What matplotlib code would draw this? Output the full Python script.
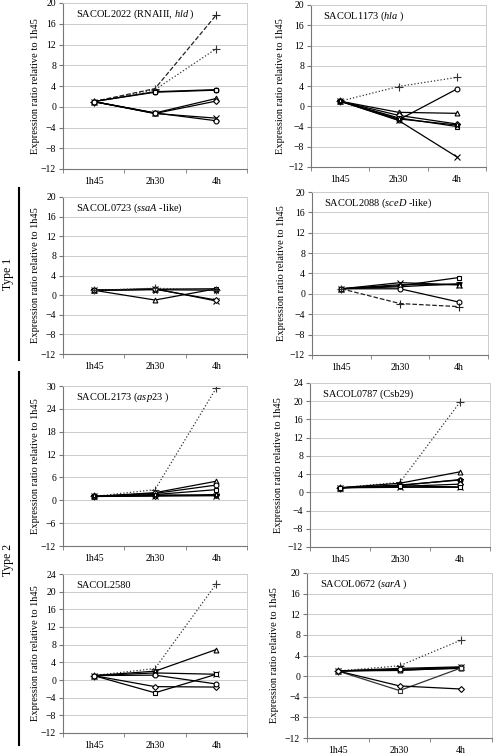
import matplotlib
matplotlib.use('Agg')
import matplotlib.pyplot as plt
from matplotlib.lines import Line2D

plt.rcParams['font.family'] = ['Liberation Serif', 'DejaVu Serif']
plt.rcParams['mathtext.fontset'] = 'custom'
plt.rcParams['mathtext.rm'] = 'Liberation Serif'
plt.rcParams['mathtext.it'] = 'Liberation Serif:italic'

times = ['1h45', '2h30', '4h']

# ---- data: one list of series per panel, keys name the marker/line style ----
hld_keys = ['plus_dash', 'plus_dot', 'o', 's', '^', 'D', 'x', 'o']
hld_vals = [[1, 3.5, 17.7], [1, 3.3, 11.2], [1, 2.9, 3.3], [1, 2.8, 3.2],
            [1, -1.2, 1.6], [1, -1.3, 1.1], [1, -1.3, -2.2], [1, -1.2, -2.7]]

hla_keys = ['plus_dot', 'o', '^', 'D', 's', 'x', '*']
hla_vals = [[1, 3.9, 5.7], [1, -2.7, 3.4], [1, -1.2, -1.4], [1, -1.8, -3.5],
            [1, -2.3, -4.0], [1, -2.8, -10.0], [1, -2.5, -3.7]]

ssaa_keys = ['^', 'x', 's', '*', 'D', 'plus_dot']
ssaa_vals = [[1, -1.0, 1.3], [1, 1.3, -1.2], [1, 1.2, 1.3], [1, 1.1, 1.0],
             [1, 1.2, -1.0], [1, 1.4, 1.1]]

sced_keys = ['s', 'x', 'sq_fill', '^', 'o', 'plus_dash']
sced_vals = [[1, 1.6, 3.2], [1, 2.2, 1.8], [1, 1.4, 2.0], [1, 1.8, 1.8],
             [1, 1.0, -1.6], [1, -1.9, -2.5]]

asp23_keys = ['plus_dot', '^', 'o', 's', 'D', 'x', '*']
asp23_vals = [[1, 2.8, 29.5], [1, 2.0, 5.0], [1, 1.8, 4.0], [1, 1.5, 2.8],
              [1, 1.2, 1.5], [1, 1.1, 1.2], [1, 1.4, 1.3]]

csb29_keys = ['plus_dot', '^', 'o_fill', '*', 'D', 'x', 's']
csb29_vals = [[1, 2.2, 19.8], [1, 2.0, 4.5], [1, 1.5, 2.8], [1, 1.6, 2.7],
              [1, 1.3, 1.8], [1, 1.1, 1.1], [1, 1.4, 1.2]]

s2580_keys = ['plus_dot', '^', 'x', 's', 'D', 'o']
s2580_vals = [[1, 2.6, 21.8], [1, 2.0, 6.9], [1, 1.6, 1.3], [1, -2.9, 1.3],
              [1, -1.5, -1.6], [1, 1.1, -0.9]]

sara_keys = ['plus_dot', 'x', 's', '^', 'o', 'sq2', 'D']
sara_vals = [[1, 2.0, 7.0], [1, 1.5, 1.8], [1, 1.1, 1.6], [1, 1.2, 1.5],
             [1, 1.3, 1.7], [1, -2.8, 1.6], [1, -1.9, -2.5]]

titles = ['SACOL2022 (RNAIII, $\\mathit{hld}$ )', 'SACOL1173 ($\\mathit{hla}$ )',
          'SACOL0723 ($\\mathit{ssaA}$ -like)', 'SACOL2088 ($\\mathit{sceD}$ -like)',
          'SACOL2173 ($\\mathit{asp23}$ )', 'SACOL0787 (Csb29)',
          'SACOL2580', 'SACOL0672 ($\\mathit{sarA}$ )']

ylims = [(-12, 20, 4), (-12, 20, 4), (-12, 20, 4), (-12, 20, 4),
         (-12, 30, 6), (-12, 24, 4), (-12, 24, 4), (-12, 20, 4)]

styles = {
    'plus_dash': dict(marker='+', ls='--', color='#222222', mfc='none', ms=6),
    'plus_dot': dict(marker='+', ls=':', color='#333333', mfc='none', ms=6),
    'o': dict(marker='o', ls='-', color='black', mfc='white', ms=3.5),
    'o_fill': dict(marker='o', ls='-', color='black', mfc='#444444', ms=3.5),
    's': dict(marker='s', ls='-', color='black', mfc='white', ms=3.5),
    'sq2': dict(marker='s', ls='-', color='#333333', mfc='white', ms=3.5),
    'sq_fill': dict(marker='s', ls='-', color='black', mfc='black', ms=3.5),
    '^': dict(marker='^', ls='-', color='black', mfc='white', ms=3.5),
    'D': dict(marker='D', ls='-', color='black', mfc='white', ms=3),
    'x': dict(marker='x', ls='-', color='black', mfc='none', ms=4.5),
    '*': dict(marker='*', ls='-', color='black', mfc='white', ms=4.5),
}

panels = [(hld_keys, hld_vals), (hla_keys, hla_vals), (ssaa_keys, ssaa_vals),
          (sced_keys, sced_vals), (asp23_keys, asp23_vals), (csb29_keys, csb29_vals),
          (s2580_keys, s2580_vals), (sara_keys, sara_vals)]

W, H = 496, 755
# pixel boxes: left, right, top, bottom
boxes = [(63, 247, 3, 169), (311, 486, 5, 167),
         (63, 247, 197, 354), (312, 488, 192, 355),
         (63, 247, 386, 546), (310, 490, 383, 547),
         (63, 247, 574, 733), (307, 492, 573, 738)]

fig = plt.figure(figsize=(W / 100, H / 100), dpi=100)

for i, ((keys, vals), (l, r, t, b)) in enumerate(zip(panels, boxes)):
    ax = fig.add_axes([l / W, 1 - b / H, (r - l) / W, (b - t) / H])
    for k, v in zip(keys, vals):
        st = styles[k]
        ax.plot(range(len(times)), v, lw=0.9, mew=0.8, mec=st['color'], **st)
    lo, hi, step = ylims[i]
    ax.set_ylim(lo, hi)
    ax.set_yticks(range(lo, hi + 1, step))
    ax.set_xlim(-0.5, 2.5)
    ax.set_xticks(range(len(times)))
    ax.set_xticklabels(times)
    ax.set_xticks([-0.5, 0.5, 1.5, 2.5], minor=True)
    ax.tick_params(axis='x', which='major', length=0, pad=6, labelsize=7)
    ax.tick_params(axis='x', which='minor', length=3, direction='out', color='#777777')
    ax.tick_params(axis='y', length=3, direction='out', color='#777777', labelsize=7, pad=2)
    ax.grid(axis='y', color='#cccccc', lw=0.7)
    ax.set_axisbelow(True)
    for s in ['left', 'bottom']:
        ax.spines[s].set_color('#777777')
        ax.spines[s].set_linewidth(0.8)
    for s in ['top', 'right']:
        ax.spines[s].set_color('#cccccc')
        ax.spines[s].set_linewidth(0.7)
    ax.set_ylabel('Expression ratio relative to 1h45', fontsize=7.5)
    if i % 2 == 0:
        ax.yaxis.set_label_coords(-0.125, 0.5)
    else:
        ax.yaxis.set_label_coords(-0.15, 0.5)
    ax.text(0.07, 0.93, titles[i], transform=ax.transAxes, fontsize=7.5,
            ha='left', va='center')

# group brackets
fig.add_artist(Line2D([19 / W, 19 / W], [1 - 188 / H, 1 - 360 / H], color='black', lw=1.5))
fig.add_artist(Line2D([19 / W, 19 / W], [1 - 372 / H, 1 - 745 / H], color='black', lw=1.5))
fig.text(8 / W, 1 - 274 / H, 'Type 1', rotation=90, ha='center', va='center', fontsize=8.5)
fig.text(8 / W, 1 - 560 / H, 'Type 2', rotation=90, ha='center', va='center', fontsize=8.5)

fig.savefig('out.png', dpi=100)
